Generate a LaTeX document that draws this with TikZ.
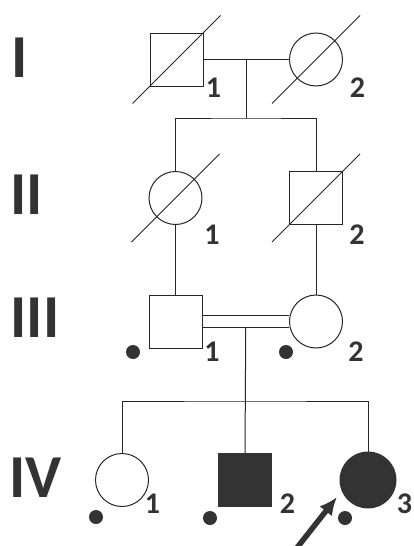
\documentclass[tikz,border=0pt]{standalone}
\usepackage{fontspec}
\setmainfont{Carlito}
\usetikzlibrary{calc, arrows.meta}
\definecolor{inkgray}{HTML}{333333}

\begin{document}
\begin{tikzpicture}[
		x=1pt, y=-1pt,
		line width=1pt,
		male/.style={draw=black!85, rectangle, minimum size=53pt, inner sep=0pt},
		female/.style={draw=black!85, circle, minimum size=53pt, inner sep=0pt},
		affected/.style={fill=inkgray, draw=inkgray},
		slash/.style={draw=black!85, line width=1pt},
		link/.style={draw=black!85, line width=1pt},
		carrier/.style={circle, fill=inkgray, minimum size=14pt, inner sep=0pt},
		id num/.style={font=\bfseries\fontsize{30}{30}\selectfont, text=inkgray, inner sep=0pt},
		gen mark/.style={font=\bfseries\fontsize{61}{61}\selectfont, text=inkgray, anchor=base west, inner sep=0pt},
		proband arrow/.style={-{Latex[length=18pt, width=16pt]}, line width=5.5pt, draw=inkgray, fill=inkgray}
		]
		\useasboundingbox (0,0) rectangle (413,546);
		
		% =========================================================
		% Generation marks
		% =========================================================
		\node[gen mark] (gI)   at (11, 77)  {I};
		\node[gen mark] (gII)  at (10, 214) {II};
		\node[gen mark] (gIII) at (10, 337) {III};
		\node[gen mark] (gIV)  at (9, 497)  {IV};
		
		% =========================================================
		% Generation I
		% =========================================================
		\node[male]   (I1) at (176.5, 59.5) {};
		\node[female] (I2) at (316, 59.5) {};
		\node[id num] at (213.5, 88) {1};
		\node[id num] at (357.5, 88) {2};
		
		% marriage and descent
		\draw[link] (I1.east) -- (I2.west);
		\coordinate (I mid) at ($(I1.east)!0.5!(I2.west)$);
		\coordinate (I sib) at ($(I mid)+(0,58.5)$);
		\draw[link] (I mid) -- (I sib);
		
		% =========================================================
		% Generation II
		% =========================================================
		\node[female] (II1) at (175.5, 198) {};
		\node[male]   (II2) at (316, 198) {};
		\node[id num] at (212, 235) {1};
		\node[id num] at (357, 235) {2};
		
		% sibship line
		\draw[link] (II1.north) |- (I sib) -| (II2.north);
		
		% deceased slashes
		\foreach \n in {I1, I2, II1, II2} {
			\draw[slash] ($(\n)+(-44,44)$) -- ($(\n)+(44,-44)$);
		}
		
		% =========================================================
		% Generation III
		% =========================================================
		\node[male]   (III1) at (175.5, 321.5) {};
		\node[female] (III2) at (316, 321.5) {};
		\node[id num] at (212, 352) {1};
		\node[id num] at (356, 352) {2};
		\node[carrier] (c III1) at (133, 352) {};
		\node[carrier] (c III2) at (286, 352) {};
		
		\draw[link] (II1.south) -- (III1.north);
		\draw[link] (II2.south) -- (III2.north);
		
		% consanguineous marriage
		\draw[link, double=white, double distance=10.5pt] (III1.east) -- (III2.west);
		\coordinate (III mid) at ($(III1.east)!0.5!(III2.west)+(0,6.3)$);
		
		% =========================================================
		% Generation IV
		% =========================================================
		\node[female] (IV1) at (122, 480) {};
		\node[male, affected] (IV2) at (245, 480) {};
		\node[female, affected, minimum size=56pt] (IV3) at (368, 480) {};
		\node[id num] at (152.5, 504) {1};
		\node[id num] at (287.5, 504) {2};
		\node[id num] at (404.5, 504) {3};
		\node[carrier] (c IV1) at (96, 517) {};
		\node[carrier] (c IV2) at (210, 518) {};
		\node[carrier] (c IV3) at (345, 518) {};
		
		% descent and sibship
		\coordinate (IV sib) at (245, 401);
		\draw[link] (III mid) -- (IV2.north);
		\draw[link] (IV1.north) |- (IV sib) -| (IV3.north);
		
		% proband
		\coordinate (arrow tail) at (296, 549);
		\coordinate (arrow tip) at ($(IV3)+(-31,17)$);
		\draw[proband arrow] (arrow tail) -- (arrow tip);
		
	\end{tikzpicture}
\end{document}
